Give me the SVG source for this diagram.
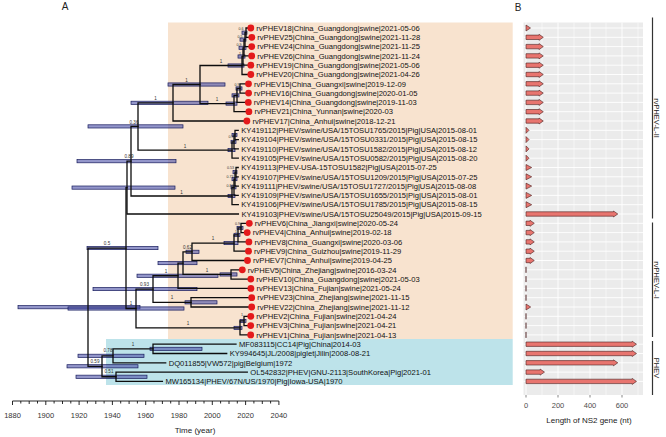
<svg xmlns="http://www.w3.org/2000/svg" width="666" height="437" viewBox="0 0 666 437">
<style>
text{font-family:"Liberation Sans",Arial,sans-serif;}
.tip{font-size:7.6px;fill:#111;}
.pp{font-size:4.6px;fill:#333;text-anchor:middle;}
.sm{font-size:3.6px;fill:#333;text-anchor:end;}
.dot{fill:#e41a1c;}
.hpd{fill:#4b50a6;fill-opacity:0.6;stroke:#161a5c;stroke-width:0.7;}
.br{fill:none;stroke:#0d0d0d;stroke-width:1.3;stroke-linecap:square;}
.ax{fill:none;stroke:#111;stroke-width:0.9;}
.tl{font-size:7.5px;fill:#333;text-anchor:middle;}
.arr{fill:#e8756f;stroke:#4a1f1f;stroke-width:0.6;stroke-linejoin:round;}
.zero{stroke:#4a1f1f;stroke-width:1;fill:none;}
.grid{stroke:#fff;stroke-width:0.9;fill:none;}
.gridm{stroke:#fff;stroke-width:0.5;fill:none;}
.strip{stroke:#333;stroke-width:1.2;fill:none;}
.st{font-size:7.5px;fill:#1a1a1a;text-anchor:middle;}
</style>

<!-- Panel A backgrounds -->
<rect x="168" y="22.5" width="344.7" height="316.5" fill="#f8e3cf"/>
<rect x="106" y="339" width="406.7" height="46" fill="#bde3ea"/>
<text x="65" y="10" font-size="10" fill="#222" text-anchor="middle">A</text>

<!-- internal nodes: HPD bars and posterior labels -->
<g id="node-root"><rect class="hpd" x="18" y="305.6" width="122" height="3.2"/></g>
<g id="node-P"><rect class="hpd" x="87" y="246.45" width="71" height="3.2"/><text class="pp" x="107" y="245">0.5</text></g>
<g id="node-N000"><rect class="hpd" x="72" y="186" width="103" height="3.2"/></g>
<g id="node-N00"><rect class="hpd" x="77" y="159.6" width="99" height="3.2"/><text class="pp" x="129" y="158.4">0.89</text></g>
<g id="node-N0"><rect class="hpd" x="88" y="124.8" width="95" height="3.2"/><text class="pp" x="134" y="123.6">0.36</text></g>
<g id="node-N1"><rect class="hpd" x="131" y="101.2" width="77" height="3.2"/><text class="pp" x="155.5" y="100">1</text></g>
<g id="node-N2"><rect class="hpd" x="168" y="82.9" width="57" height="3.2"/><text class="pp" x="186.5" y="82">1</text></g>
<g id="node-C1"><rect class="hpd" x="228" y="63.9" width="16" height="3.2"/><text class="pp" x="221" y="63">1</text></g>
<g id="node-c1d"><rect class="hpd" x="238" y="54.9" width="7" height="3.2"/><text class="sm" x="241" y="54.5">1</text></g>
<g id="node-c1c"><rect class="hpd" x="239" y="46.2" width="7" height="3.2"/><text class="sm" x="241.5" y="45.8">0.9</text></g>
<g id="node-c1b"><rect class="hpd" x="240" y="38" width="6" height="3.2"/><text class="sm" x="242.5" y="37.6">0.5</text></g>
<g id="node-c1a"><rect class="hpd" x="242" y="31.05" width="5" height="3.2"/><text class="sm" x="243.5" y="30.4">0.6</text></g>
<g id="node-C2"><rect class="hpd" x="226" y="102" width="11" height="3.2"/><text class="pp" x="217" y="101">1</text></g>
<g id="node-c2b"><rect class="hpd" x="232" y="93.8" width="7" height="3.2"/><text class="sm" x="237.5" y="93.2">1</text></g>
<g id="node-c2a"><rect class="hpd" x="236" y="86.85" width="6" height="3.2"/><text class="sm" x="239.5" y="86">0.9</text></g>
<g id="node-KA"><rect class="hpd" x="228" y="148.45" width="7" height="3.2"/><text class="pp" x="185" y="147.5">1</text></g>
<g id="node-ka2"><rect class="hpd" x="231" y="140.3" width="5" height="3.2"/></g>
<g id="node-ka1"><rect class="hpd" x="232" y="133.35" width="5" height="3.2"/><text class="sm" x="233.5" y="137.5">0.9</text></g>
<g id="node-KB"><rect class="hpd" x="228" y="194.4" width="7" height="3.2"/><text class="pp" x="181.5" y="193.5">1</text></g>
<g id="node-kb3"><rect class="hpd" x="231" y="185.7" width="5" height="3.2"/><text class="sm" x="233.5" y="186.5">0.84</text></g>
<g id="node-kb2"><rect class="hpd" x="232" y="177.5" width="5" height="3.2"/><text class="sm" x="233.5" y="177.8">0.73</text></g>
<g id="node-kb1"><rect class="hpd" x="233" y="170.55" width="4" height="3.2"/><text class="sm" x="234" y="168.8">0.53</text></g>
<g id="node-W"><rect class="hpd" x="68" y="306.9" width="116" height="3.2"/><text class="pp" x="131" y="305">1</text></g>
<g id="node-U"><rect class="hpd" x="93" y="287.45" width="104" height="3.2"/><text class="pp" x="144.5" y="285.5">0.93</text></g>
<g id="node-Rp"><rect class="hpd" x="137" y="274.15" width="81" height="3.2"/><text class="pp" x="166" y="272.5">1</text></g>
<g id="node-R"><rect class="hpd" x="158" y="261.5" width="39" height="3.2"/></g>
<g id="node-Q1"><rect class="hpd" x="186" y="250.2" width="13" height="3.2"/><text class="pp" x="187.5" y="249">0.62</text></g>
<g id="node-b3"><rect class="hpd" x="224" y="241.45" width="14" height="3.2"/><text class="pp" x="213" y="240">1</text></g>
<g id="node-b2"><rect class="hpd" x="234" y="233.3" width="6" height="3.2"/><text class="sm" x="237" y="232.5">1</text></g>
<g id="node-b1"><rect class="hpd" x="237" y="226.35" width="6" height="3.2"/><text class="sm" x="240" y="224.8">0.9</text></g>
<g id="node-c1"><rect class="hpd" x="220" y="272.85" width="17" height="3.2"/><text class="pp" x="207" y="271.5">1</text></g>
<g id="node-V"><rect class="hpd" x="185" y="300.75" width="32" height="3.2"/><text class="pp" x="172" y="299.3">1</text></g>
<g id="node-n231"><rect class="hpd" x="234" y="326.3" width="8" height="3.2"/><text class="pp" x="188" y="325">1</text></g>
<g id="node-n23"><rect class="hpd" x="240" y="319.35" width="6" height="3.2"/><text class="sm" x="243" y="315.5">1</text></g>
<g id="node-pC"><rect class="hpd" x="67" y="364.7" width="71" height="3.2"/><text class="pp" x="95" y="362.5">0.59</text></g>
<g id="node-pB"><rect class="hpd" x="78" y="354.2" width="66" height="3.2"/><text class="pp" x="108" y="352">0.78</text></g>
<g id="node-pA"><rect class="hpd" x="150" y="347.25" width="52" height="3.2"/><text class="pp" x="133" y="345.5">1</text></g>
<g id="node-pD"><rect class="hpd" x="76" y="375.15" width="71" height="3.2"/><text class="pp" x="109" y="373">0.51</text></g>

<!-- connectors: tree branches -->
<g id="connectors" class="br">
<path d="M88,248.05V366.3M88,248.05H126M88,366.3H102"/>
<path d="M126,187.6V308.5M126,187.6H127M126,308.5H136"/>
<path d="M127,161.2V214M127,161.2H131M127,214H238.4"/>
<path d="M131,126.4V196M131,126.4H138M131,196H232"/>
<path d="M138,102.8V150.05M138,102.8H173M138,150.05H232"/>
<path d="M173,84.5V121M173,84.5H200M173,121H243.9"/>
<path d="M200,65.5V103.6M200,65.5H242M200,103.6H234"/>
<path d="M242,56.5V74.5M242,56.5H243M242,74.5H247.8"/>
<path d="M243,47.8V65.2M243,47.8H244M243,65.2H247.8"/>
<path d="M244,39.6V55.9M244,39.6H245M244,55.9H248.7"/>
<path d="M245,32.65V46.6M245,32.65H246M245,46.6H248.7"/>
<path d="M246,28V37.3M246,28H247.8M246,37.3H248.8"/>
<path d="M234,95.4V111.7M234,95.4H237M234,111.7H245.9"/>
<path d="M237,88.45V102.4M237,88.45H240M237,102.4H245.3"/>
<path d="M240,83.8V93.1M240,83.8H245.5M240,93.1H245.6"/>
<path d="M232,141.9V158.2M232,141.9H234M232,158.2H238.3"/>
<path d="M234,134.95V148.9M234,134.95H235M234,148.9H238.3"/>
<path d="M235,130.3V139.6M235,130.3H238.2M235,139.6H238.3"/>
<path d="M232,187.3V204.7M232,187.3H234M232,204.7H238.3"/>
<path d="M234,179.1V195.4M234,179.1H235M234,195.4H238.2"/>
<path d="M235,172.15V186.1M235,172.15H236M235,186.1H238.3"/>
<path d="M236,167.5V176.8M236,167.5H238.2M236,176.8H238.2"/>
<path d="M136,289.05V327.9M136,289.05H153M136,327.9H240"/>
<path d="M153,275.75V302.35M153,275.75H178M153,302.35H191"/>
<path d="M178,263.1V288.4M178,263.1H183M178,288.4H247.9"/>
<path d="M183,251.8V274.45M183,251.8H192M183,274.45H231"/>
<path d="M192,243.05V260.5M192,243.05H234M192,260.5H244.5"/>
<path d="M234,234.9V251.2M234,234.9H238M234,251.2H245.5"/>
<path d="M238,227.95V241.9M238,227.95H241M238,241.9H245.9"/>
<path d="M241,223.3V232.6M241,223.3H246.3M241,232.6H244.2"/>
<path d="M231,269.8V279.1M231,269.8H239.3M231,279.1H247.8"/>
<path d="M191,297.7V307M191,297.7H248.7M191,307H248.7"/>
<path d="M240,320.95V334.9M240,320.95H244M240,334.9H247.7"/>
<path d="M244,316.3V325.6M244,316.3H247.8M244,325.6H247.7"/>
<path d="M102,355.8V376.75M102,355.8H113M102,376.75H116"/>
<path d="M113,348.85V362.8M113,348.85H153M113,362.8H165.7"/>
<path d="M153,344.2V353.5M153,344.2H236M153,353.5H226.7"/>
<path d="M116,372.1V381.4M116,372.1H247.3M116,381.4H162.4"/>
</g>

<!-- tips -->
<g id="tip-rvPHEV18"><circle class="dot" cx="250.8" cy="28" r="3.4"/><text class="tip" x="256.3" y="30.7">rvPHEV18|China_Guangdong|swine|2021-05-06</text></g>
<g id="tip-rvPHEV25"><circle class="dot" cx="251.8" cy="37.3" r="3.4"/><text class="tip" x="257.3" y="40">rvPHEV25|China_Guangdong|swine|2021-11-28</text></g>
<g id="tip-rvPHEV24"><circle class="dot" cx="251.7" cy="46.6" r="3.4"/><text class="tip" x="257.2" y="49.3">rvPHEV24|China_Guangdong|swine|2021-11-25</text></g>
<g id="tip-rvPHEV26"><circle class="dot" cx="251.7" cy="55.9" r="3.4"/><text class="tip" x="257.2" y="58.6">rvPHEV26|China_Guangdong|swine|2021-11-24</text></g>
<g id="tip-rvPHEV19"><circle class="dot" cx="250.8" cy="65.2" r="3.4"/><text class="tip" x="256.3" y="67.9">rvPHEV19|China_Guangdong|swine|2021-05-06</text></g>
<g id="tip-rvPHEV20"><circle class="dot" cx="250.8" cy="74.5" r="3.4"/><text class="tip" x="256.3" y="77.2">rvPHEV20|China_Guangdong|swine|2021-04-26</text></g>
<g id="tip-rvPHEV15"><circle class="dot" cx="248.5" cy="83.8" r="3.4"/><text class="tip" x="254" y="86.5">rvPHEV15|China_Guangxi|swine|2019-12-09</text></g>
<g id="tip-rvPHEV16"><circle class="dot" cx="248.6" cy="93.1" r="3.4"/><text class="tip" x="254.1" y="95.8">rvPHEV16|China_Guangdong|swine|2020-01-05</text></g>
<g id="tip-rvPHEV14"><circle class="dot" cx="248.3" cy="102.4" r="3.4"/><text class="tip" x="253.8" y="105.1">rvPHEV14|China_Guangdong|swine|2019-11-03</text></g>
<g id="tip-rvPHEV21"><circle class="dot" cx="248.9" cy="111.7" r="3.4"/><text class="tip" x="254.4" y="114.4">rvPHEV21|China_Yunnan|swine|2020-03</text></g>
<g id="tip-rvPHEV17"><circle class="dot" cx="246.9" cy="121" r="3.4"/><text class="tip" x="252.4" y="123.7">rvPHEV17|China_Anhui|swine|2018-12-21</text></g>
<g id="tip-KY419112"><text class="tip" x="241.3" y="133">KY419112|PHEV/swine/USA/15TOSU1765/2015|Pig|USA|2015-08-01</text></g>
<g id="tip-KY419104"><text class="tip" x="241.3" y="142.3">KY419104|PHEV/swine/USA/15TOSU0331/2015|Pig|USA|2015-08-15</text></g>
<g id="tip-KY419110"><text class="tip" x="241.3" y="151.6">KY419110|PHEV/swine/USA/15TOSU1582/2015|Pig|USA|2015-08-12</text></g>
<g id="tip-KY419105"><text class="tip" x="241.3" y="160.9">KY419105|PHEV/swine/USA/15TOSU0582/2015|Pig|USA|2015-08-20</text></g>
<g id="tip-KY419113"><text class="tip" x="241.3" y="170.2">KY419113|PHEV-USA-15TOSU1582|Pig|USA|2015-07-25</text></g>
<g id="tip-KY419107"><text class="tip" x="241.3" y="179.5">KY419107|PHEV/swine/USA/15TOSU1209/2015|Pig|USA|2015-07-25</text></g>
<g id="tip-KY419111"><text class="tip" x="241.3" y="188.8">KY419111|PHEV/swine/USA/15TOSU1727/2015|Pig|USA|2015-08-08</text></g>
<g id="tip-KY419109"><text class="tip" x="241.3" y="198.1">KY419109|PHEV/swine/USA/15TOSU1655/2015|Pig|USA|2015-08-01</text></g>
<g id="tip-KY419106"><text class="tip" x="241.3" y="207.4">KY419106|PHEV/swine/USA/15TOSU1785/2015|Pig|USA|2015-08-15</text></g>
<g id="tip-KY419103"><text class="tip" x="241.4" y="216.7">KY419103|PHEV/swine/USA/15TOSU25049/2015|Pig|USA|2015-09-15</text></g>
<g id="tip-rvPHEV6"><circle class="dot" cx="249.3" cy="223.3" r="3.4"/><text class="tip" x="254.8" y="226">rvPHEV6|China_Jiangxi|swine|2020-05-24</text></g>
<g id="tip-rvPHEV4"><circle class="dot" cx="247.2" cy="232.6" r="3.4"/><text class="tip" x="252.7" y="235.3">rvPHEV4|China_Anhui|swine|2019-02-18</text></g>
<g id="tip-rvPHEV8"><circle class="dot" cx="248.9" cy="241.9" r="3.4"/><text class="tip" x="254.4" y="244.6">rvPHEV8|China_Guangxi|swine|2020-03-06</text></g>
<g id="tip-rvPHEV9"><circle class="dot" cx="248.5" cy="251.2" r="3.4"/><text class="tip" x="254" y="253.9">rvPHEV9|China_Guizhou|swine|2019-11-29</text></g>
<g id="tip-rvPHEV7"><circle class="dot" cx="247.5" cy="260.5" r="3.4"/><text class="tip" x="253" y="263.2">rvPHEV7|China_Anhui|swine|2019-04-25</text></g>
<g id="tip-rvPHEV5"><circle class="dot" cx="242.3" cy="269.8" r="3.4"/><text class="tip" x="247.8" y="272.5">rvPHEV5|China_Zhejiang|swine|2016-03-24</text></g>
<g id="tip-rvPHEV10"><circle class="dot" cx="250.8" cy="279.1" r="3.4"/><text class="tip" x="256.3" y="281.8">rvPHEV10|China_Guangdong|swine|2021-05-03</text></g>
<g id="tip-rvPHEV13"><circle class="dot" cx="250.9" cy="288.4" r="3.4"/><text class="tip" x="256.4" y="291.1">rvPHEV13|China_Fujian|swine|2021-05-24</text></g>
<g id="tip-rvPHEV23"><circle class="dot" cx="251.7" cy="297.7" r="3.4"/><text class="tip" x="257.2" y="300.4">rvPHEV23|China_Zhejiang|swine|2021-11-15</text></g>
<g id="tip-rvPHEV22"><circle class="dot" cx="251.7" cy="307" r="3.4"/><text class="tip" x="257.2" y="309.7">rvPHEV22|China_Zhejiang|swine|2021-11-12</text></g>
<g id="tip-rvPHEV2"><circle class="dot" cx="250.8" cy="316.3" r="3.4"/><text class="tip" x="256.3" y="319">rvPHEV2|China_Fujian|swine|2021-04-24</text></g>
<g id="tip-rvPHEV3"><circle class="dot" cx="250.7" cy="325.6" r="3.4"/><text class="tip" x="256.2" y="328.3">rvPHEV3|China_Fujian|swine|2021-04-21</text></g>
<g id="tip-rvPHEV1"><circle class="dot" cx="250.7" cy="334.9" r="3.4"/><text class="tip" x="256.2" y="337.6">rvPHEV1|China_Fujian|swine|2021-04-13</text></g>
<g id="tip-MF083115"><text class="tip" x="239" y="346.9">MF083115|CC14|Pig|China|2014-03</text></g>
<g id="tip-KY994645"><text class="tip" x="229.7" y="356.2">KY994645|JL/2008|piglet|Jilin|2008-08-21</text></g>
<g id="tip-DQ011855"><text class="tip" x="168.7" y="365.5">DQ011855|VW572|pig|Belgium|1972</text></g>
<g id="tip-OL542832"><text class="tip" x="250.3" y="374.8">OL542832|PHEV|GNU-2113|SouthKorea|Pig|2021-01</text></g>
<g id="tip-MW165134"><text class="tip" x="165.4" y="384.1">MW165134|PHEV/67N/US/1970|Pig|Iowa-USA|1970</text></g>

<!-- time axis -->
<g id="time-axis">
<path class="ax" d="M12.5,401H278.9"/>
<path class="ax" d="M12.5,401v4M20.8,401v2.5M29.2,401v3M37.5,401v2.5M45.8,401v4M54.1,401v2.5M62.5,401v3M70.8,401v2.5M79.1,401v4M87.4,401v2.5M95.8,401v3M104.1,401v2.5M112.4,401v4M120.7,401v2.5M129.1,401v3M137.4,401v2.5M145.7,401v4M154,401v2.5M162.4,401v3M170.7,401v2.5M179,401v4M187.3,401v2.5M195.7,401v3M204,401v2.5M212.3,401v4M220.6,401v2.5M229,401v3M237.3,401v2.5M245.6,401v4M253.9,401v2.5M262.3,401v3M270.6,401v2.5M278.9,401v4"/>
<text class="tl" x="12.5" y="417.5">1880</text>
<text class="tl" x="45.8" y="417.5">1900</text>
<text class="tl" x="79.1" y="417.5">1920</text>
<text class="tl" x="112.4" y="417.5">1940</text>
<text class="tl" x="145.7" y="417.5">1960</text>
<text class="tl" x="179" y="417.5">1980</text>
<text class="tl" x="212.3" y="417.5">2000</text>
<text class="tl" x="245.6" y="417.5">2020</text>
<text class="tl" x="278.9" y="417.5">2040</text>
<text x="195" y="432.5" font-size="8" fill="#222" text-anchor="middle">Time (year)</text>
</g>

<!-- Panel B -->
<g id="panel-B">
<text x="518" y="10.5" font-size="10" fill="#222" text-anchor="middle">B</text>
<rect x="523.5" y="22.5" width="119.5" height="372.5" fill="#ebebeb"/>
<path class="gridm" d="M542,22.5V395M574,22.5V395M606,22.5V395M638,22.5V395"/>
<path class="grid" d="M526,22.5V395M558,22.5V395M590,22.5V395M622,22.5V395"/>
<path class="grid" d="M523.5,28H643M523.5,37.3H643M523.5,46.6H643M523.5,55.9H643M523.5,65.2H643M523.5,74.5H643M523.5,83.8H643M523.5,93.1H643M523.5,102.4H643M523.5,111.7H643M523.5,121H643M523.5,130.3H643M523.5,139.6H643M523.5,148.9H643M523.5,158.2H643M523.5,167.5H643M523.5,176.8H643M523.5,186.1H643M523.5,195.4H643M523.5,204.7H643M523.5,214H643M523.5,223.3H643M523.5,232.6H643M523.5,241.9H643M523.5,251.2H643M523.5,260.5H643M523.5,269.8H643M523.5,279.1H643M523.5,288.4H643M523.5,297.7H643M523.5,307H643M523.5,316.3H643M523.5,325.6H643M523.5,334.9H643M523.5,344.2H643M523.5,353.5H643M523.5,362.8H643M523.5,372.1H643M523.5,381.4H643"/>
<g id="arrows">
<path class="arr" d="M526,25L530.5,28L526,31Z"/>
<path class="arr" d="M526,35.1H539V34.3L543.3,37.3L539,40.3V39.5H526Z"/>
<path class="arr" d="M526,44.4H539V43.6L543.3,46.6L539,49.6V48.8H526Z"/>
<path class="arr" d="M526,53.7H539V52.9L543.3,55.9L539,58.9V58.1H526Z"/>
<path class="arr" d="M526,63H539V62.2L543.3,65.2L539,68.2V67.4H526Z"/>
<path class="arr" d="M526,72.3H539V71.5L543.3,74.5L539,77.5V76.7H526Z"/>
<path class="arr" d="M526,81.6H539V80.8L543.3,83.8L539,86.8V86H526Z"/>
<path class="arr" d="M526,90.9H539V90.1L543.3,93.1L539,96.1V95.3H526Z"/>
<path class="arr" d="M526,100.2H539V99.4L543.3,102.4L539,105.4V104.6H526Z"/>
<path class="arr" d="M526,109.5H539V108.7L543.3,111.7L539,114.7V113.9H526Z"/>
<path class="arr" d="M526,118.8H539V118L543.3,121L539,124V123.2H526Z"/>
<path class="arr" d="M526,127.3L529,130.3L526,133.3Z"/>
<path class="arr" d="M526,136.6L529,139.6L526,142.6Z"/>
<path class="arr" d="M526,145.9L529,148.9L526,151.9Z"/>
<path class="arr" d="M526,155.2L529,158.2L526,161.2Z"/>
<path class="arr" d="M526,164.5L531.7,167.5L526,170.5Z"/>
<path class="arr" d="M526,173.8L531.7,176.8L526,179.8Z"/>
<path class="arr" d="M526,183.1L531.7,186.1L526,189.1Z"/>
<path class="arr" d="M526,192.4L531.7,195.4L526,198.4Z"/>
<path class="arr" d="M526,201.7L531.7,204.7L526,207.7Z"/>
<path class="arr" d="M526,211.8H613.5V211L617.8,214L613.5,217V216.2H526Z"/>
<path class="arr" d="M526,221.1H530V220.3L534.3,223.3L530,226.3V225.5H526Z"/>
<path class="arr" d="M526,230.4H530V229.6L534.3,232.6L530,235.6V234.8H526Z"/>
<path class="arr" d="M526,239.7H530V238.9L534.3,241.9L530,244.9V244.1H526Z"/>
<path class="arr" d="M526,249H530V248.2L534.3,251.2L530,254.2V253.4H526Z"/>
<path class="arr" d="M526,258.3H530V257.5L534.3,260.5L530,263.5V262.7H526Z"/>
<path class="zero" d="M526,266.8V272.8M526,276.1V282.1M526,285.4V291.4M526,294.7V300.7M526,313.3V319.3M526,322.6V328.6M526,331.9V337.9"/>
<path class="arr" d="M526,304L530.7,307L526,310Z"/>
<path class="arr" d="M526,342H632.2V341.2L636.5,344.2L632.2,347.2V346.4H526Z"/>
<path class="arr" d="M526,351.3H632.2V350.5L636.5,353.5L632.2,356.5V355.7H526Z"/>
<path class="arr" d="M526,360.6H613.5V359.8L617.8,362.8L613.5,365.8V365H526Z"/>
<path class="arr" d="M526,369.9H540.2V369.1L544.5,372.1L540.2,375.1V374.3H526Z"/>
<path class="arr" d="M526,379.2H632.2V378.4L636.5,381.4L632.2,384.4V383.6H526Z"/>
</g>
<path d="M526,395v2.5M558,395v2.5M590,395v2.5M622,395v2.5" stroke="#333" stroke-width="0.6"/>
<text x="526" y="407.5" font-size="7.5" fill="#4d4d4d" text-anchor="middle">0</text>
<text x="558" y="407.5" font-size="7.5" fill="#4d4d4d" text-anchor="middle">200</text>
<text x="590" y="407.5" font-size="7.5" fill="#4d4d4d" text-anchor="middle">400</text>
<text x="622" y="407.5" font-size="7.5" fill="#4d4d4d" text-anchor="middle">600</text>
<text x="589" y="423" font-size="8" fill="#1a1a1a" text-anchor="middle">Length of NS2 gene (nt)</text>
</g>

<!-- clade strips -->
<g id="strip-L-II"><path class="strip" d="M652.5,17.5V218.5"/><text class="st" transform="translate(654.2,118) rotate(90)">rvPHEV-L-II</text></g>
<g id="strip-L-I"><path class="strip" d="M652.5,222.5V337"/><text class="st" transform="translate(654.2,280) rotate(90)">rvPHEV-L-I</text></g>
<g id="strip-PHEV"><path class="strip" d="M652.5,341V395"/><text class="st" transform="translate(654.2,368) rotate(90)">PHEV</text></g>
</svg>
